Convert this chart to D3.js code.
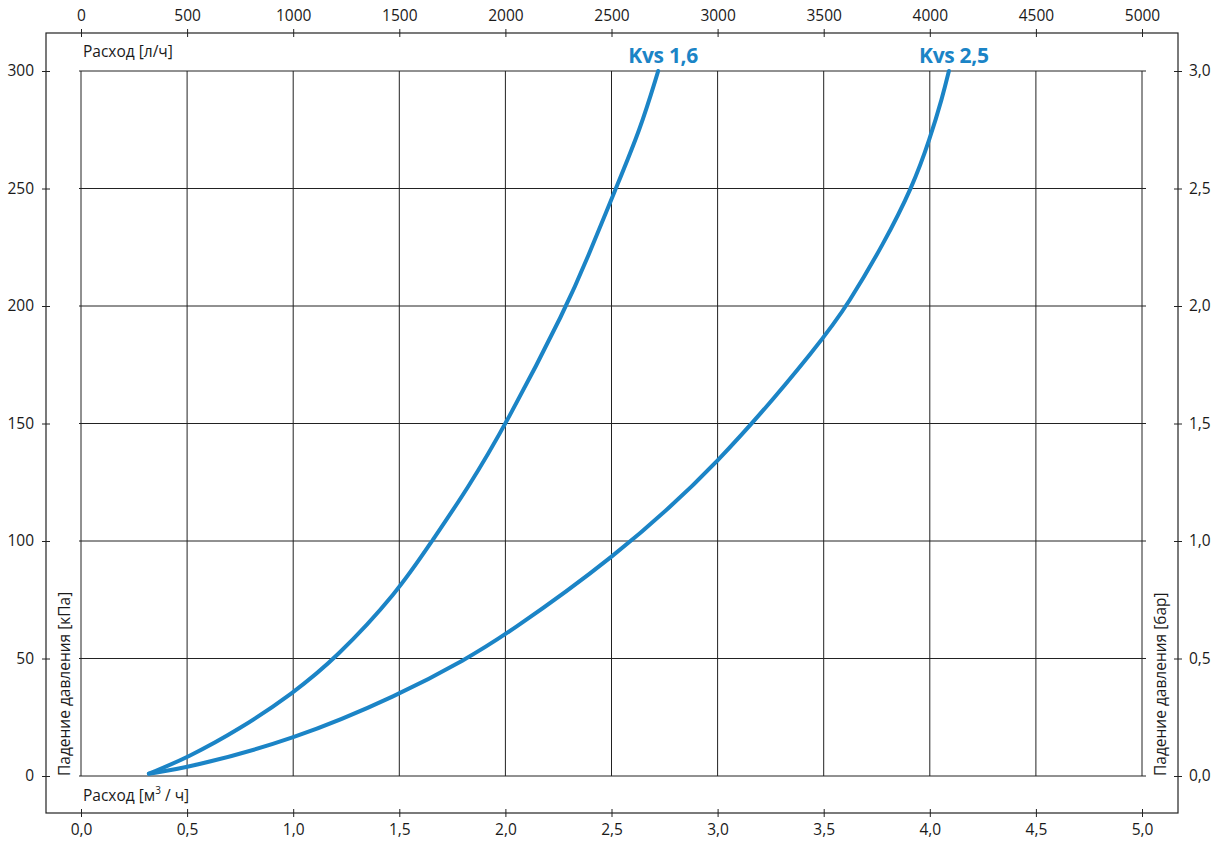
<!DOCTYPE html>
<html>
<head>
<meta charset="utf-8">
<script src="https://cdn.jsdelivr.net/npm/d3@7"></script>
<style>
  body { margin: 0; background: #fff; }
  text { font-family: "Open Sans", "Noto Sans", sans-serif; fill: #1a1a1a; }
</style>
</head>
<body>
<div id="chart"></div>
<script>
// flow in m3/h, pressure drop in kPa
const kvs16Flow = [0.32, 0.5, 0.75, 1.0, 1.2, 1.49, 1.654, 1.82, 2.005, 2.29, 2.385, 2.52, 2.635, 2.72];
const kvs16Drop = [1, 7.7, 20, 35.3, 50, 78, 100, 122, 150, 200, 220, 250, 275, 300];
const kvs25Flow = [0.32, 0.5, 1.0, 1.5, 1.82, 2.0, 2.5, 3.0, 3.5, 3.615, 3.78, 3.92, 4.0, 4.06, 4.09];
const kvs25Drop = [1, 3.4, 15.3, 34.5, 50, 60, 92, 132, 186, 201, 226, 251, 271, 289, 300];
const seriesNames = ["Kvs 1,6", "Kvs 2,5"];
const flowTicks = [0, 0.5, 1, 1.5, 2, 2.5, 3, 3.5, 4, 4.5, 5];
const litreTicks = [0, 500, 1000, 1500, 2000, 2500, 3000, 3500, 4000, 4500, 5000];
const kpaTicks = [0, 50, 100, 150, 200, 250, 300];
const barTicks = [0, 0.5, 1, 1.5, 2, 2.5, 3];

const W = 1218, H = 841;
const frame = { left: 46, top: 33, right: 1178, bottom: 813 };
const plot = { left: 81, right: 1142, top: 71, bottom: 776 };
const blue = "#1b84c6";
const fs = "15.5px";
const comma = d => d3.format(".1f")(d).replace(".", ",");

const svg = d3.select("#chart").append("svg")
  .attr("width", W).attr("height", H);

const x = d3.scaleLinear().domain([0, 5]).range([plot.left, plot.right]);
const xl = d3.scaleLinear().domain([0, 5000]).range([plot.left, plot.right]);
const y = d3.scaleLinear().domain([0, 300]).range([plot.bottom, plot.top]);
const yb = d3.scaleLinear().domain([0, 3]).range([plot.bottom, plot.top]);

// grid
svg.append("g").selectAll("line").data(flowTicks).join("line")
  .attr("x1", d => x(d)).attr("x2", d => x(d))
  .attr("y1", plot.top).attr("y2", plot.bottom)
  .attr("stroke", "#222").attr("stroke-width", 1);
svg.append("g").selectAll("line").data(kpaTicks).join("line")
  .attr("x1", plot.left - 2).attr("x2", plot.right + 4)
  .attr("y1", d => y(d)).attr("y2", d => y(d))
  .attr("stroke", "#222").attr("stroke-width", 1);

// frame
svg.append("rect")
  .attr("x", frame.left).attr("y", frame.top)
  .attr("width", frame.right - frame.left).attr("height", frame.bottom - frame.top)
  .attr("fill", "none").attr("stroke", "#222").attr("stroke-width", 1.2);

// axes on the frame, ticks crossing the frame line
function crossTicks(g, horiz) {
  g.select(".domain").remove();
  g.selectAll(".tick line")
    .attr(horiz ? "y1" : "x1", -4).attr(horiz ? "y2" : "x2", 4)
    .attr("stroke", "#222");
  g.selectAll(".tick text").style("font-size", fs);
}

svg.append("g")
  .attr("transform", `translate(0,${frame.bottom})`)
  .call(d3.axisBottom(x).tickValues(flowTicks).tickFormat(comma).tickSize(4).tickPadding(7))
  .call(g => crossTicks(g, true));

svg.append("g")
  .attr("transform", `translate(0,${frame.top})`)
  .call(d3.axisTop(xl).tickValues(litreTicks).tickFormat(d3.format("d")).tickSize(4).tickPadding(8))
  .call(g => crossTicks(g, true));

svg.append("g")
  .attr("transform", `translate(${frame.left},0)`)
  .call(d3.axisLeft(y).tickValues(kpaTicks).tickSize(4).tickPadding(8))
  .call(g => crossTicks(g, false));

svg.append("g")
  .attr("transform", `translate(${frame.right},0)`)
  .call(d3.axisRight(yb).tickValues(barTicks).tickFormat(comma).tickSize(4).tickPadding(7))
  .call(g => crossTicks(g, false));

// axis titles
svg.append("text").attr("x", plot.left + 2).attr("y", 57)
  .style("font-size", fs).text("Расход [л/ч]");
const bt = svg.append("text").attr("x", plot.left + 2).attr("y", 801)
  .style("font-size", fs);
bt.append("tspan").text("Расход [м");
bt.append("tspan").attr("dy", -7).style("font-size", "10px").text("3");
bt.append("tspan").attr("dy", 7).text(" / ч]");

svg.append("text")
  .attr("transform", `translate(70,${plot.bottom}) rotate(-90)`)
  .style("font-size", fs).text("Падение давления [кПа]");
svg.append("text")
  .attr("transform", `translate(1166,${plot.bottom}) rotate(-90)`)
  .style("font-size", fs).text("Падение давления [бар]");

// curves
const line = d3.line()
  .x(d => x(d[0])).y(d => y(d[1]))
  .curve(d3.curveBasis);

const series = [
  d3.zip(kvs16Flow, kvs16Drop),
  d3.zip(kvs25Flow, kvs25Drop)
];

svg.append("g").selectAll("path").data(series).join("path")
  .attr("d", line)
  .attr("fill", "none").attr("stroke", blue)
  .attr("stroke-width", 4).attr("stroke-linecap", "round");

// series labels above the ends
svg.append("g").selectAll("text").data(series).join("text")
  .attr("x", d => x(d[d.length - 1][0]) + 5)
  .attr("y", 63)
  .attr("text-anchor", "middle")
  .style("font-size", "21px").style("font-weight", "700")
  .style("fill", blue).style("letter-spacing", "-0.3px")
  .text((d, i) => seriesNames[i]);
</script>
</body>
</html>
